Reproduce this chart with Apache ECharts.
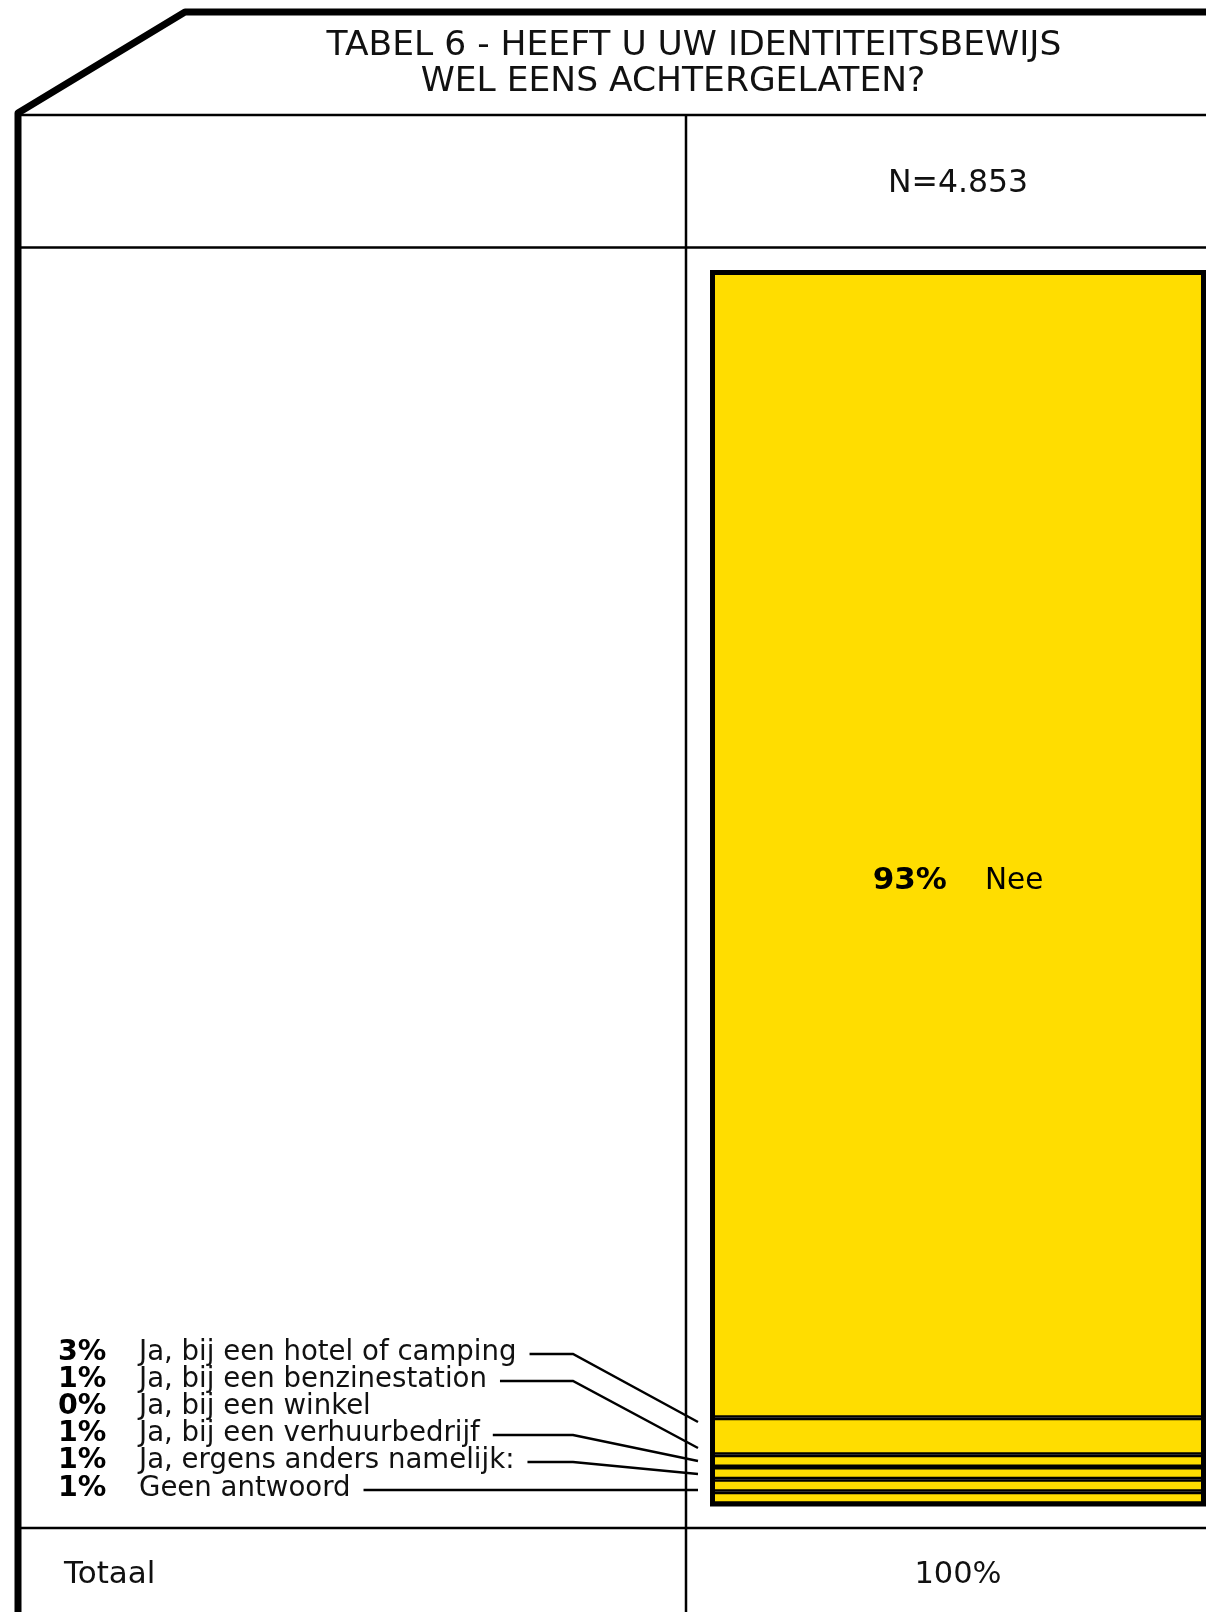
<!DOCTYPE html>
<html><head><meta charset="utf-8">
<script src="https://cdn.jsdelivr.net/npm/echarts@6/dist/echarts.min.js"></script>
<style>html,body{margin:0;padding:0;background:#fff}#c{width:1206px;height:1612px}</style>
</head><body><div id="c"></div>
<script>
// ---- data ----
const titleLines = ['TABEL 6 - HEEFT U UW IDENTITEITSBEWIJS', 'WEL EENS ACHTERGELATEN?'];
const columnLabel = 'N=4.853';
const categories = ['Nee', 'Ja, bij een hotel of camping', 'Ja, bij een benzinestation', 'Ja, bij een winkel', 'Ja, bij een verhuurbedrijf', 'Ja, ergens anders namelijk:', 'Geen antwoord'];
const values = [93, 3, 1, 0, 1, 1, 1];
const totalLabel = 'Totaal';
const totalValue = '100%';

// ---- layout ----
const FONT = '"DejaVu Sans", Verdana, sans-serif';
const YELLOW = '#FFDD00';
const G = {left: 712.5, top: 272.5, width: 491, height: 1231.5};
const chart = echarts.init(document.getElementById('c'), null, {renderer: 'canvas'});

function textWidth(t, size, weight) {
  const el = new echarts.graphic.Text({style: {text: t, fontSize: size, fontFamily: FONT, fontWeight: weight || 'normal'}});
  return el.getBoundingRect().width;
}

const series = categories.map((c, i) => ({
  type: 'bar', name: c, stack: 'total', barWidth: '100%',
  data: [values[i]],
  itemStyle: {color: YELLOW, borderColor: '#000', borderWidth: 2.5},
  label: i === 0 ? {
    show: true, position: 'inside', offset: [0, 36],
    formatter: p => '{b|' + p.value + '%}{n|' + c + '}',
    rich: {
      b: {fontFamily: FONT, fontWeight: 'bold', fontSize: 31, color: '#000', padding: [0, 38, 0, 0]},
      n: {fontFamily: FONT, fontSize: 29.5, color: '#000'}
    }
  } : {show: false},
  silent: true, animation: false
}));

const graphics = [];
const line = (x1, y1, x2, y2, w) => graphics.push({type: 'line', shape: {x1, y1, x2, y2}, style: {stroke: '#000', lineWidth: w}, z: 50});
// frame
graphics.push({type: 'polyline', shape: {points: [[18, 1620], [18, 113], [185, 12], [1215, 12]]},
  style: {stroke: '#000', lineWidth: 7, fill: null, lineJoin: 'round'}, z: 60});
line(18, 115, 1206, 115, 2.5);
line(18, 247.5, 1206, 247.5, 2.5);
line(18, 1528, 1206, 1528, 2.5);
line(686, 115, 686, 1612, 2.5);
// bar outline (100% box)
graphics.push({type: 'rect', shape: {x: G.left, y: G.top, width: G.width, height: G.height},
  style: {stroke: '#000', lineWidth: 5, fill: null}, z: 70});
// title
const titleCx = [694, 673], titleCy = [46, 82];
titleLines.forEach((t, i) => graphics.push({type: 'text', x: titleCx[i], y: titleCy[i],
  style: {text: t, fontFamily: FONT, fontSize: 34.5, fill: '#111', align: 'center', verticalAlign: 'middle'}, z: 80}));
// column header
graphics.push({type: 'text', x: 958, y: 184, style: {text: columnLabel, fontFamily: FONT, fontSize: 31.5, fill: '#111', align: 'center', verticalAlign: 'middle'}, z: 80});
// totals
graphics.push({type: 'text', x: 64, y: 1575, style: {text: totalLabel, fontFamily: FONT, fontSize: 31, fill: '#111', align: 'left', verticalAlign: 'middle'}, z: 80});
graphics.push({type: 'text', x: 958, y: 1575, style: {text: totalValue, fontFamily: FONT, fontSize: 30.5, fill: '#111', align: 'center', verticalAlign: 'middle'}, z: 80});
// left legend rows (small categories)
const rowY = [1353, 1380, 1407, 1434, 1461, 1489];
const leaderEnd = [1422, 1448, null, 1461, 1474, 1487];
const LBL = 27.6;
categories.slice(1).forEach((c, k) => {
  const y = rowY[k];
  graphics.push({type: 'text', x: 58, y, style: {text: values[k + 1] + '%', fontFamily: FONT, fontWeight: 'bold', fontSize: 28.5, fill: '#000', align: 'left', verticalAlign: 'middle'}, z: 80});
  graphics.push({type: 'text', x: 139, y, style: {text: c, fontFamily: FONT, fontSize: LBL, fill: '#111', align: 'left', verticalAlign: 'middle'}, z: 80});
  if (leaderEnd[k] !== null) {
    const x0 = 139 + textWidth(c, LBL) + 13;
    const ly = y + 1;
    const pts = (k === 5) ? [[x0, ly], [698, ly]] : [[x0, ly], [573, ly], [698, leaderEnd[k]]];
    graphics.push({type: 'polyline', shape: {points: pts}, style: {stroke: '#000', lineWidth: 2.5, fill: null}, z: 55});
  }
});

chart.setOption({
  animation: false,
  backgroundColor: '#fff',
  grid: {left: G.left, top: G.top, width: G.width, height: G.height, containLabel: false},
  xAxis: {type: 'category', data: [columnLabel], show: false},
  yAxis: {type: 'value', min: 0, max: 100, inverse: true, show: false},
  series,
  graphic: graphics
});
</script>
</body></html>
